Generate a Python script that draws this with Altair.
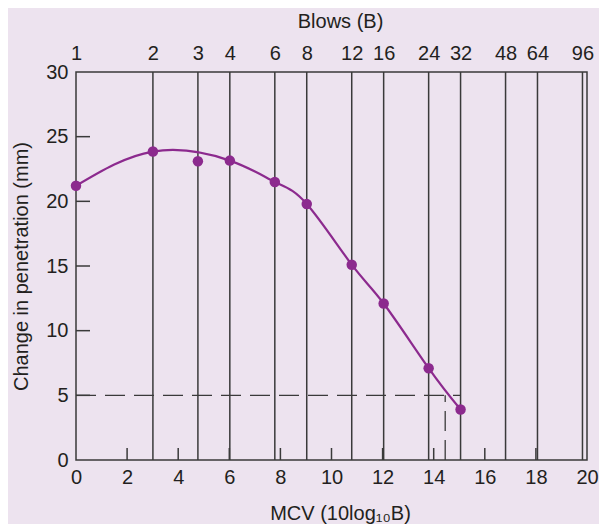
import altair as alt
import pandas as pd
import math

# ---- data ----
blows = [1, 2, 3, 4, 6, 8, 12, 16, 24, 32, 48, 64, 96]
point_blows = [1, 2, 3, 4, 6, 8, 12, 16, 24, 32]
penetration = [21.2, 23.85, 23.1, 23.15, 21.5, 19.8, 15.1, 12.1, 7.1, 3.9]
on_curve = [1, 1, 0, 1, 1, 1, 1, 1, 1, 1]
x_ticks = [2, 4, 6, 8, 10, 12, 14, 16, 18]
y_ticks = [5, 10, 15, 20, 25]
x_labels = [0, 2, 4, 6, 8, 10, 12, 14, 16, 18, 20]
y_labels = [0, 5, 10, 15, 20, 25, 30]
dash_level = 5
dash_end_blows = 32
read_mcv = 14.45

W, H = 511, 388
FONT = "Liberation Sans"
FS = 20
TXT = "#231f20"
LINE = "#3a3a3a"
PURPLE = "#8c2a8e"
BG = "#ede3ef"

def mcv(b):
    return 10 * math.log10(b)

xs = alt.Scale(domain=[0, 20], nice=False, zero=False)
ys = alt.Scale(domain=[0, 30], nice=False)

lines_df = pd.DataFrame({"mcv": [mcv(b) for b in blows[1:]]})
pts_df = pd.DataFrame({"mcv": [mcv(b) for b in point_blows], "pen": penetration,
                       "fit": on_curve})
xt_df = pd.DataFrame({"v": x_ticks})
yt_df = pd.DataFrame({"v": y_ticks})
top_df = pd.DataFrame({"mcv": [mcv(b) for b in blows]})
dash_df = pd.DataFrame({"x0": [0], "x1": [mcv(dash_end_blows)], "y": [dash_level],
                        "xr": [read_mcv], "y0": [0]})

common = dict(domain=False, ticks=False, grid=False, labelFontSize=FS, labelFont=FONT,
              labelColor=TXT, titleFontSize=FS, titleFont=FONT, titleColor=TXT,
              titleFontWeight="normal", labelFlush=False, labelOverlap=False)

vlines = alt.Chart(lines_df).mark_rule(color=LINE, strokeWidth=1.5).encode(
    x=alt.X("mcv:Q", scale=xs, axis=alt.Axis(
        values=x_labels, title="MCV (10log₁₀B)", labelPadding=7,
        titlePadding=16, titleX=264, **common)),
    y=alt.YDatum(0, scale=ys),
    y2=alt.Y2Datum(30),
)

xticks = alt.Chart(xt_df).mark_rule(color=LINE, strokeWidth=1.5).encode(
    x=alt.X("v:Q", scale=xs, axis=None),
    y=alt.value(H), y2=alt.value(H - 12),
)

yticks = alt.Chart(yt_df).mark_rule(color=LINE, strokeWidth=1.5).encode(
    y=alt.Y("v:Q", scale=ys, axis=alt.Axis(
        values=y_labels, title="Change in penetration (mm)", labelPadding=8,
        titlePadding=14, **common)),
    x=alt.value(0), x2=alt.value(14),
)

hdash = alt.Chart(dash_df).mark_rule(color=LINE, strokeWidth=1.3, strokeDash=[20, 9]).encode(
    x=alt.X("x0:Q", scale=xs, axis=None), x2="x1:Q",
    y=alt.Y("y:Q", scale=ys),
)
vdash = alt.Chart(dash_df).mark_rule(color=LINE, strokeWidth=1.3, strokeDash=[20, 9]).encode(
    x=alt.X("xr:Q", scale=xs, axis=None),
    y=alt.Y("y0:Q", scale=ys), y2="y:Q",
)

curve = alt.Chart(pts_df).transform_filter("datum.fit == 1").mark_line(
    color=PURPLE, strokeWidth=2.2, interpolate="natural"
).encode(
    x=alt.X("mcv:Q", scale=xs, axis=None),
    y=alt.Y("pen:Q", scale=ys),
)

points = alt.Chart(pts_df).mark_circle(color=PURPLE, size=110, opacity=1).encode(
    x=alt.X("mcv:Q", scale=xs, axis=None),
    y=alt.Y("pen:Q", scale=ys),
)

top = alt.Chart(top_df).mark_rule(opacity=0).encode(
    x=alt.X("mcv:Q", scale=xs, axis=alt.Axis(
        orient="top", values=[mcv(b) for b in blows],
        labelExpr="format(round(pow(10, datum.value / 10)), 'd')",
        title="Blows (B)", labelPadding=9, titlePadding=12, titleX=264, **common)),
    y=alt.YDatum(0, scale=ys),
)

chart = alt.layer(vlines, xticks, yticks, hdash, vdash, curve, points, top).resolve_scale(
    x="independent"
).properties(
    width=W, height=H, background=BG,
    autosize=alt.AutoSizeParams(type="none"),
    padding={"left": 68, "top": 64, "right": 12, "bottom": 64},
).configure_view(stroke=LINE, strokeWidth=1.5)

chart.save("out.html", embed_options={"renderer": "svg", "actions": False})
